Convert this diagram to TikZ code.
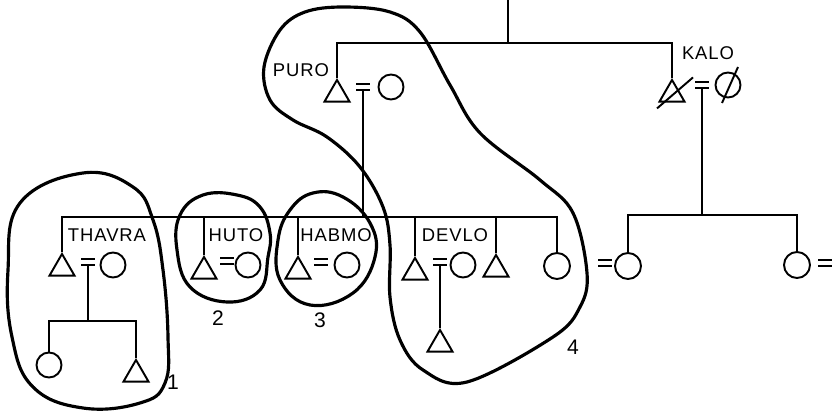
\documentclass[tikz,border=0pt]{standalone}
\usepackage{fontspec}
\setmainfont{Liberation Sans}
\usetikzlibrary{shapes.geometric}

% marriage sign: two short strokes
\newcommand{\marriage}[2]{%
  \node[marr] (#1) at (#2) {};
  \draw[line] (#1.north west) -- (#1.north east) (#1.south west) -- (#1.south east);}
\newcommand{\namefont}{\fontsize{10.5}{12}\selectfont\addfontfeature{LetterSpace=5}}

\begin{document}
\begin{tikzpicture}[
    x=0.02cm, y=-0.02cm,
    line/.style={line width=1.1pt},
    male/.style={regular polygon, regular polygon sides=3, draw, line width=1.1pt,
                 minimum size=0.58cm, inner sep=0pt, anchor=north},
    female/.style={circle, draw, line width=1.1pt, minimum size=0.5cm, inner sep=0pt},
    marr/.style={minimum width=0.25cm, minimum height=0.1cm, inner sep=0pt},
    kinname/.style={font=\namefont, inner sep=0pt},
    num/.style={font=\fontsize{12}{14}\selectfont, inner sep=0pt},
    lasso/.style={line width=1.8pt}
]
    \useasboundingbox (0,0) rectangle (835,411);

    \coordinate (topend) at (508,0);
    \coordinate (topjoin) at (508,43);
    \coordinate (pbar) at (0,43);
    \coordinate (sibbar) at (0,217);
    \coordinate (kbar) at (0,215);
    \coordinate (tbar) at (0,321);

    % first generation
    \node[male] (puro) at (337,78) {};
    \marriage{puroM}{363,87}
    \node[female] (puroW) at (391,87) {};
    \node[kinname] (puroL) at (301,70) {PURO};

    \node[male] (kalo) at (672,78) {};
    \marriage{kaloM}{702,85}
    \node[female] (kaloW) at (728,85) {};
    \node[kinname] (kaloL) at (708,53) {KALO};
    \draw[line] ([shift={(-15,14)}]kalo.center) -- ([shift={(21,-17)}]kalo.center);
    \draw[line] ([shift={(-6,18)}]kaloW.center) -- ([shift={(10,-18)}]kaloW.center);

    % Puro's children
    \node[male] (thavra) at (62,252) {};
    \marriage{thavraM}{88,262}
    \node[female] (thavraW) at (113,265) {};
    \node[kinname] (thavraL) at (107,235) {THAVRA};

    \node[male] (huto) at (204,255) {};
    \marriage{hutoM}{227,261}
    \node[female] (hutoW) at (248,265) {};
    \node[kinname] (hutoL) at (236,235) {HUTO};

    \node[male] (habmo) at (298,255) {};
    \marriage{habmoM}{321,262}
    \node[female] (habmoW) at (347,265) {};
    \node[kinname] (habmoL) at (336,235) {HABMO};

    \node[male] (devlo) at (415,256) {};
    \marriage{devloM}{440,262}
    \node[female] (devloW) at (463,265) {};
    \node[kinname] (devloL) at (455,235) {DEVLO};

    \node[male] (bro) at (496,253) {};
    \node[female, minimum size=0.52cm] (sis) at (557,266) {};

    % grandchildren
    \node[female] (td1) at (49,365) {};
    \node[male] (td2) at (136,358) {};
    \node[male] (devloS) at (440,328) {};

    % Kalo's children
    \marriage{kd1M}{605,263}
    \node[female, minimum size=0.52cm] (kd1) at (628,266) {};
    \node[female, minimum size=0.52cm] (kd2) at (797,265) {};
    \marriage{kd2M}{825,263}

    % descent lines
    \draw[line] (topend) -- (topjoin);
    \draw[line] (puro.north) -- (puro.north |- pbar) -- (kalo.north |- pbar) -- (kalo.north);
    \draw[line] (puroM.south) -- (puroM.south |- sibbar);
    \draw[line] (thavra.north) -- (thavra.north |- sibbar) -- (sis.north |- sibbar) -- (sis.north);
    \foreach \n in {huto, habmo, devlo, bro}
        \draw[line] (\n.north) -- (\n.north |- sibbar);
    \draw[line] (kaloM.south) -- (kaloM.south |- kbar);
    \draw[line] (kd1.north) -- (kd1.north |- kbar) -- (kd2.north |- kbar) -- (kd2.north);
    \draw[line] (thavraM.south) -- (thavraM.south |- tbar);
    \draw[line] (td1.north) -- (td1.north |- tbar) -- (td2.north |- tbar) -- (td2.north);
    \draw[line] (devloM.south) -- (devloS.north);

    % groups
    \draw[lasso] plot[smooth cycle, tension=0.7] coordinates {(83,173) (133,187) (153,220)
        (163,270) (168,337) (165,383) (140,403) (83,408) (33,387) (12,337) (8,270) (20,203)};
    \draw[lasso] plot[smooth cycle, tension=0.7] coordinates {(203,195) (237,195) (260,207)
        (270,233) (268,257) (260,290) (227,302) (190,287) (177,250) (180,215)};
    \draw[lasso] plot[smooth cycle, tension=0.7] coordinates {(313,193) (343,197) (370,223)
        (375,257) (353,293) (310,305) (280,280) (278,240) (290,210)};
    \draw[lasso] plot[smooth cycle, tension=0.6] coordinates {(343,7) (390,12) (420,32)
        (450,85) (480,133) (540,180) (573,213) (587,273) (580,307) (553,337) (467,382)
        (423,370) (400,340) (390,297) (390,245) (383,207) (360,167) (327,137) (293,120)
        (270,100) (264,67) (280,30) (305,12)};

    \node[num] (n1) at (173,382) {1};
    \node[num] (n2) at (218,318) {2};
    \node[num] (n3) at (320,320) {3};
    \node[num] (n4) at (573,347) {4};
\end{tikzpicture}
\end{document}
